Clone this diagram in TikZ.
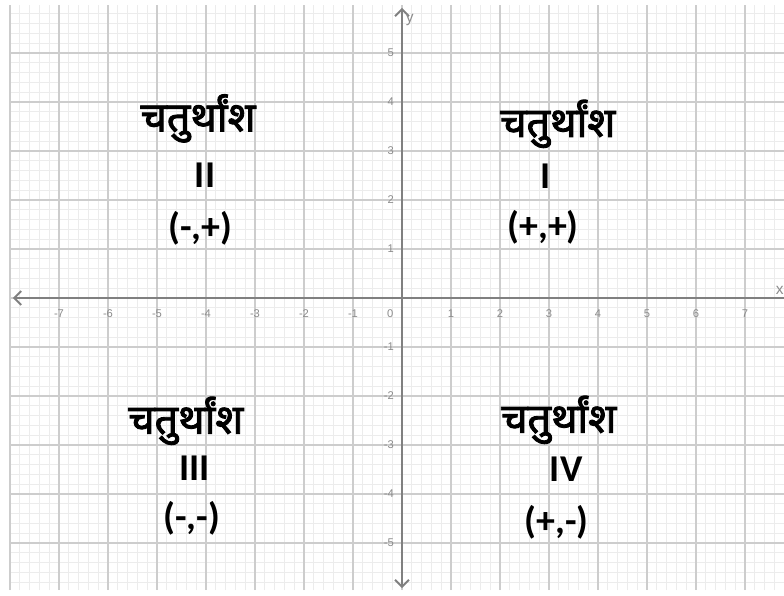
\documentclass[tikz,border=0pt]{standalone}
\usepackage{fontspec}
\setmainfont{Carlito}
\newfontfamily\devfont[Script=Devanagari, FakeBold=2.2]{Noto Sans}
\newfontfamily\tickfont{Liberation Sans}
\usetikzlibrary{arrows.meta}
\definecolor{gridminor}{RGB}{236,236,236}
\definecolor{gridmajor}{RGB}{205,205,205}
\definecolor{axisgray}{RGB}{128,128,128}
\definecolor{ticklbl}{RGB}{140,140,140}

\begin{document}
\begin{tikzpicture}[
    quadword/.style={font=\devfont\fontsize{24}{26}\selectfont, inner sep=0pt, anchor=base},
    quadnum/.style={font=\bfseries\fontsize{22}{24}\selectfont, inner sep=0pt, anchor=base},
    ticktext/.style={font=\tickfont\fontsize{6.5}{7}\selectfont, text=ticklbl, inner sep=0pt},
    axisline/.style={axisgray, line width=1.1pt}
  ]
			\useasboundingbox (-8.204,-6.061) rectangle (7.796,6.082);
			\fill[white] (-8.204,-6.061) rectangle (7.796,6.082);

			% grid, fine and coarse
			\draw[gridminor, line width=0.45pt, step=0.2] (-8,-5.96) grid (7.796,5.98);
			\draw[gridmajor, line width=0.7pt, step=1] (-8,-5.96) grid (7.796,5.98);

			% axes
			\coordinate (xleft) at (-7.94,0);
			\coordinate (xright) at (7.796,0);
			\coordinate (ytop) at (0,5.92);
			\coordinate (ybot) at (0,-5.92);
			\draw[axisline, {Straight Barb[length=4pt,width=8pt]}-] (xleft) -- (xright);
			\draw[axisline, {Straight Barb[length=4pt,width=8pt]}-{Straight Barb[length=4pt,width=8pt]}] (ytop) -- (ybot);

			\node[ticktext, font=\tickfont\fontsize{9}{10}\selectfont] (xname) at (7.71,0.16) {x};
			\node[ticktext, font=\tickfont\fontsize{9}{10}\selectfont] (yname) at (0.16,5.67) {y};

			% tick numbers
			\foreach \i in {-7,...,-1,1,2,...,7}
				\node[ticktext] (xt\i) at (\i,-0.31) {\i};
			\node[ticktext] (xt0) at (-0.24,-0.31) {0};
			\foreach \j in {-5,...,-1,1,2,...,5}
				\node[ticktext, anchor=east] (yt\j) at (-0.16,\j) {\j};

			% Quadrant II
			\node[quadword] (qtwoword) at (-4.16,3.40) {चतुर्थांश};
			\node[quadnum] (qtwonum) at (-4.02,2.26) {II};
			\node[quadnum] (qtwosign) at (-4.12,1.19) {(-,+)};
			% Quadrant I
			\node[quadword] (qoneword) at (3.18,3.29) {चतुर्थांश};
			\node[quadnum] (qonenum) at (2.92,2.24) {I};
			\node[quadnum] (qonesign) at (2.88,1.22) {(+,+)};
			% Quadrant III
			\node[quadword] (qthreeword) at (-4.41,-2.77) {चतुर्थांश};
			\node[quadnum] (qthreenum) at (-4.24,-3.73) {III};
			\node[quadnum] (qthreesign) at (-4.29,-4.73) {(-,-)};
			% Quadrant IV
			\node[quadword] (qfourword) at (3.20,-2.75) {चतुर्थांश};
			\node[quadnum] (qfournum) at (3.35,-3.75) {IV};
			\node[quadnum] (qfoursign) at (3.16,-4.80) {(+,-)};

		\end{tikzpicture}
\end{document}
